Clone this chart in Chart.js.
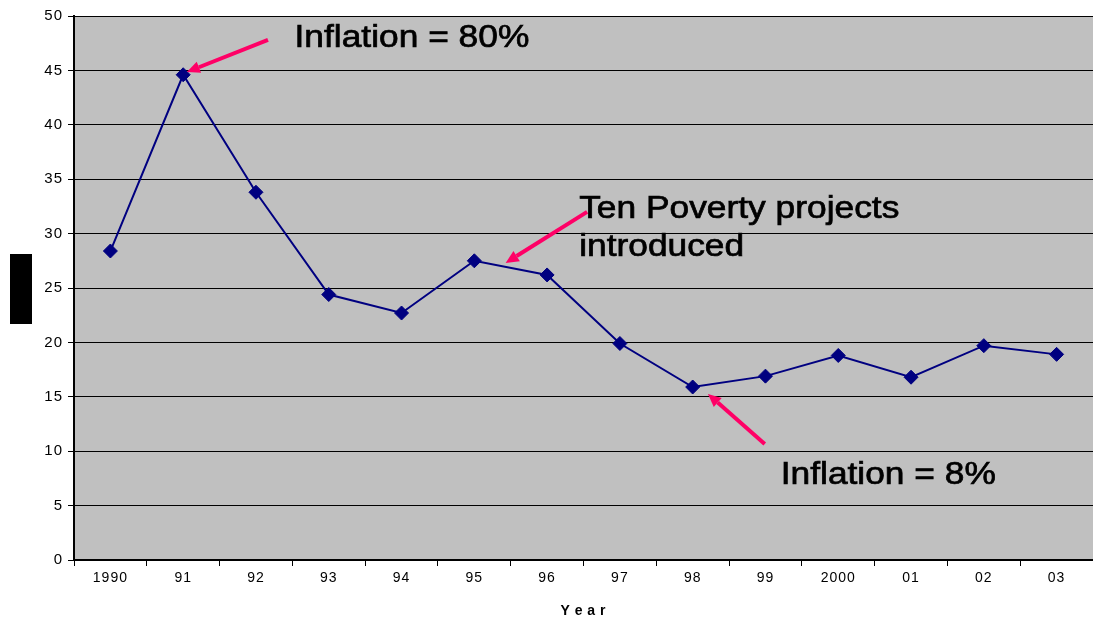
<!DOCTYPE html>
<html>
<head>
<meta charset="utf-8">
<script src="https://cdn.jsdelivr.net/npm/chart.js@4/dist/chart.umd.min.js"></script>
<style>
  html, body { margin: 0; padding: 0; background: #fff; }
  #wrap { width: 1093px; height: 620px; position: relative; }
</style>
</head>
<body>
<div id="wrap"><canvas id="povertyChart"></canvas></div>
<script>
// Chart data
const years = ['1990', '91', '92', '93', '94', '95', '96', '97', '98', '99', '2000', '01', '02', '03'];
const povertyRate = [28.4, 44.6, 33.8, 24.4, 22.7, 27.5, 26.2, 19.9, 15.9, 16.9, 18.8, 16.8, 19.7, 18.9];
const yTicks = [0, 5, 10, 15, 20, 25, 30, 35, 40, 45, 50];

// Callouts, positioned in data units (category index, value)
const calloutLines = [
    ['Inflation = 80%'],
    ['Ten Poverty projects', 'introduced'],
    ['Inflation = 8%']
];
const calloutTextAt = [[2.53, 47.95], [6.44, 32.2], [9.21, 7.8]];
const arrowFrom = [[2.165, 47.8], [6.55, 32.0], [8.99, 10.66]];
const arrowTo = [[1.05, 44.85], [5.43, 27.3], [8.21, 15.26]];

const plotBackground = {
    id: 'plotBackground',
    beforeDraw(chart) {
        const { ctx, chartArea: a } = chart;
        // slightly spaced lettering for the axis labels (kept in canvas state)
        ctx.letterSpacing = '1px';
        ctx.save();
        ctx.fillStyle = '#c0c0c0';
        ctx.fillRect(a.left, a.top, a.right - a.left, a.bottom - a.top);
        // hidden y-axis title block
        ctx.fillStyle = '#000';
        ctx.fillRect(10, 254, 22, 70);
        ctx.restore();
    }
};

const callouts = {
    id: 'callouts',
    afterDatasetsDraw(chart) {
        const { ctx, scales: { x, y } } = chart;
        ctx.save();
        ctx.letterSpacing = '0px';
        // arrows
        ctx.strokeStyle = '#ff0066';
        ctx.fillStyle = '#ff0066';
        ctx.lineWidth = 4;
        arrowFrom.forEach((from, i) => {
            const x0 = x.getPixelForValue(from[0]), y0 = y.getPixelForValue(from[1]);
            const x1 = x.getPixelForValue(arrowTo[i][0]), y1 = y.getPixelForValue(arrowTo[i][1]);
            const ang = Math.atan2(y1 - y0, x1 - x0);
            const head = 13;
            const bx = x1 - head * Math.cos(ang), by = y1 - head * Math.sin(ang);
            ctx.beginPath();
            ctx.moveTo(x0, y0);
            ctx.lineTo(bx, by);
            ctx.stroke();
            ctx.beginPath();
            ctx.moveTo(x1, y1);
            ctx.lineTo(bx + 6 * Math.sin(ang), by - 6 * Math.cos(ang));
            ctx.lineTo(bx - 6 * Math.sin(ang), by + 6 * Math.cos(ang));
            ctx.closePath();
            ctx.fill();
        });
        // text, stretched a little wider like the original
        ctx.fillStyle = '#000';
        ctx.strokeStyle = '#000';
        ctx.lineWidth = 0.7;
        ctx.font = '31px "Liberation Sans", Arial, sans-serif';
        ctx.textBaseline = 'middle';
        ctx.textAlign = 'left';
        const stretch = 1.14;
        calloutLines.forEach((lines, i) => {
            const tx = x.getPixelForValue(calloutTextAt[i][0]);
            const ty = y.getPixelForValue(calloutTextAt[i][1]);
            lines.forEach((line, j) => {
                ctx.save();
                ctx.translate(tx, ty + j * 38);
                ctx.scale(stretch, 1);
                ctx.fillText(line, 0, 0);
                ctx.strokeText(line, 0, 0);
                ctx.restore();
            });
        });
        ctx.restore();
    }
};

const ctx = document.getElementById('povertyChart').getContext('2d');
new Chart(ctx, {
    type: 'line',
    data: {
        labels: years,
        datasets: [{
            data: povertyRate,
            borderColor: '#000080',
            backgroundColor: '#000080',
            borderWidth: 2,
            pointStyle: 'rectRot',
            pointRadius: 7,
            pointBackgroundColor: '#000080',
            pointBorderColor: '#000080',
            pointBorderWidth: 1,
            tension: 0,
            fill: false
        }]
    },
    options: {
        responsive: true,
        maintainAspectRatio: false,
        animation: false,
        devicePixelRatio: 1,
        layout: { autoPadding: false, padding: { top: 16, right: 0, left: 0, bottom: 0 } },
        scales: {
            x: {
                offset: true,
                afterFit: (scale) => {
                    scale.height = 60;
                    scale.paddingLeft = 0;
                    scale.paddingRight = 0;
                },
                grid: {
                    offset: true,
                    drawOnChartArea: false,
                    color: '#000',
                    tickLength: 6,
                    tickColor: '#000'
                },
                border: { color: '#000', width: 1.5 },
                ticks: {
                    color: '#000',
                    padding: 4,
                    maxRotation: 0,
                    autoSkip: false,
                    font: { family: '"Liberation Sans", Arial, sans-serif', size: 14 }
                },
                title: {
                    display: true,
                    text: 'Y\u2009e\u2009a\u2009r',
                    color: '#000',
                    padding: { top: 4, bottom: 0 },
                    font: { family: '"Liberation Sans", Arial, sans-serif', size: 14, weight: 'bold' }
                }
            },
            y: {
                min: 0,
                max: 50,
                afterFit: (scale) => { scale.width = 74; },
                afterBuildTicks: (scale) => { scale.ticks = yTicks.map(v => ({ value: v })); },
                grid: {
                    color: '#000',
                    lineWidth: 1,
                    tickLength: 6,
                    tickColor: '#000'
                },
                border: { color: '#000', width: 2 },
                ticks: {
                    color: '#000',
                    padding: 5,
                    font: { family: '"Liberation Sans", Arial, sans-serif', size: 15 }
                }
            }
        },
        plugins: {
            legend: { display: false },
            title: { display: false },
            tooltip: { enabled: false }
        }
    },
    plugins: [plotBackground, callouts]
});
</script>
</body>
</html>
